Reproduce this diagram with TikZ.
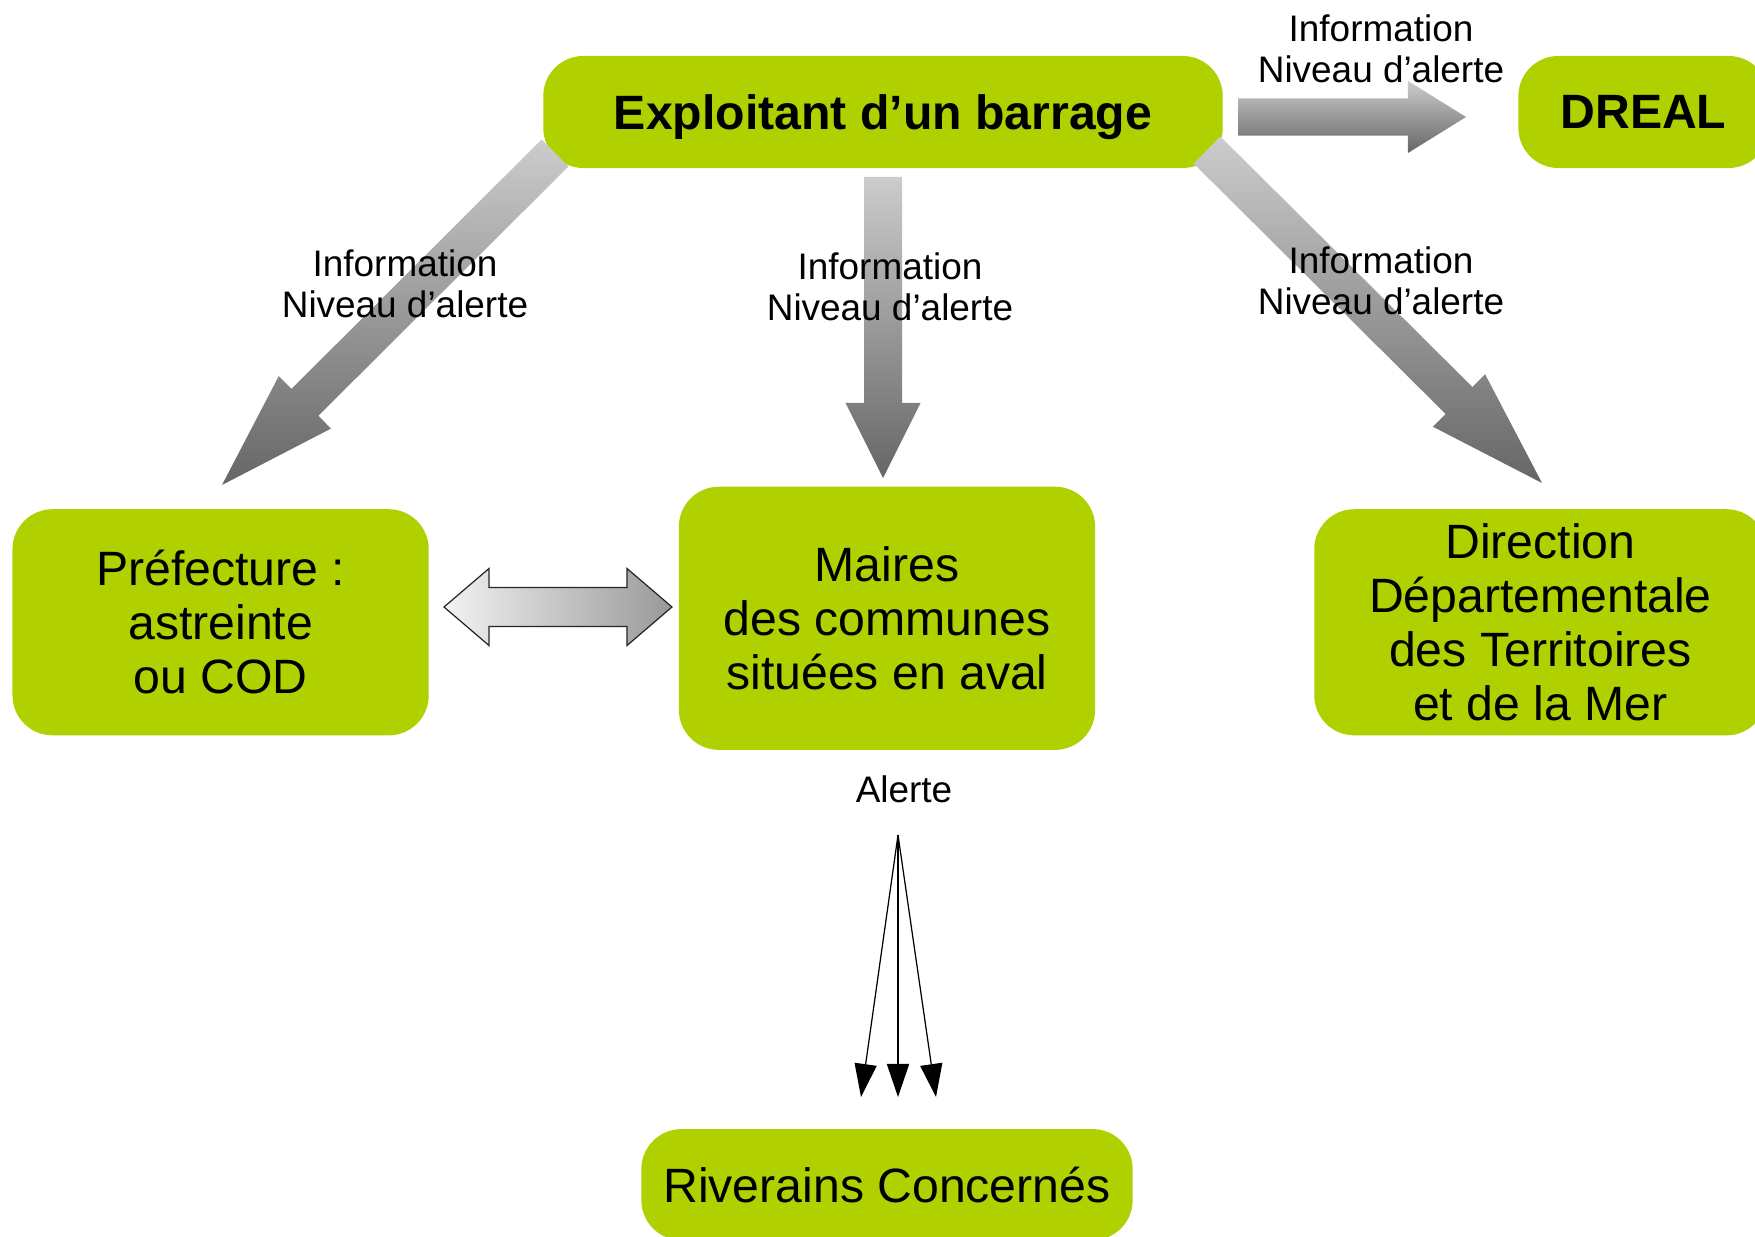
\documentclass[tikz,border=0pt]{standalone}
\usepackage{fontspec}
\setsansfont{Liberation Sans}
\usetikzlibrary{positioning,calc,arrows.meta}
\definecolor{barrage}{RGB}{176,208,0}

% wide grey arrow: start, end, half shaft, half head, head length
\newcommand{\infoarrow}[5]{%
  \shade[top color=black!20,bottom color=black!60]
    ($(#1)!#3!90:(#2)$) -- ($(#2)!#5!(#1)!#3!-90:(#1)$) -- ($(#2)!#5!(#1)!#4!-90:(#1)$)
    -- (#2) -- ($(#2)!#5!(#1)!#4!90:(#1)$) -- ($(#2)!#5!(#1)!#3!90:(#1)$)
    -- ($(#1)!#3!-90:(#2)$) -- cycle;}
% same with two heads
\newcommand{\duoarrow}[5]{%
  \shadedraw[draw=black!85,line width=0.35pt,left color=black!5,right color=black!40]
    (#1) -- ($(#1)!#5!(#2)!#4!90:(#2)$) -- ($(#1)!#5!(#2)!#3!90:(#2)$)
    -- ($(#2)!#5!(#1)!#3!-90:(#1)$) -- ($(#2)!#5!(#1)!#4!-90:(#1)$)
    -- (#2) -- ($(#2)!#5!(#1)!#4!90:(#1)$) -- ($(#2)!#5!(#1)!#3!90:(#1)$)
    -- ($(#1)!#5!(#2)!#3!-90:(#2)$) -- ($(#1)!#5!(#2)!#4!-90:(#2)$) -- cycle;}

\begin{document}
\begin{tikzpicture}[x=0.01cm,y=-0.01cm,font=\sffamily]
    \tikzstyle{box}=[fill=barrage, rounded corners=0.4cm, align=center, inner sep=0pt, on grid, font=\sffamily\fontsize{13.7}{15.3}\selectfont]
    \tikzstyle{info}=[align=center, inner sep=0pt, font=\sffamily\fontsize{10.5}{11.8}\selectfont]
    \useasboundingbox (0,0) rectangle (1755,1237);

    \node[box,minimum width=6.79cm,minimum height=1.12cm,text depth=0pt] (expl) at (883,112) {\textbf{Exploitant d’un barrage}};
    \node[box,minimum width=2.50cm,minimum height=1.12cm,right=7.60cm of expl] (dreal) {\textbf{DREAL}};
    \node[box,minimum width=4.16cm,minimum height=2.63cm,below right=5.06cm and 0.04cm of expl] (maires) {Maires\\des communes\\situées en aval};
    \node[box,minimum width=4.16cm,minimum height=2.26cm,below left=5.10cm and 6.62cm of expl] (pref) {Préfecture :\\astreinte\\ou COD};
    \node[box,minimum width=4.52cm,minimum height=2.26cm,below right=5.10cm and 6.57cm of expl] (ddtm) {Direction\\Départementale\\des Territoires\\et de la Mer};
    \node[box,minimum width=4.91cm,minimum height=1.11cm,below=5.66cm of maires] (riv) {Riverains Concernés};

    % ends of the wide arrows
    \coordinate (s-dreal) at (1238,117);  \coordinate (t-dreal) at (1466,117);
    \coordinate (s-pref) at (555,153);    \coordinate (t-pref) at (222,485);
    \coordinate (s-maires) at (883,177);  \coordinate (t-maires) at (883,478);
    \coordinate (s-ddtm) at (1207,150);   \coordinate (t-ddtm) at (1542,483);
    \coordinate (l-duo) at (444,607);     \coordinate (r-duo) at (672,607);

    \infoarrow{s-dreal}{t-dreal}{0.185cm}{0.36cm}{0.58cm}
    \infoarrow{s-pref}{t-pref}{0.19cm}{0.37cm}{1.17cm}
    \infoarrow{s-maires}{t-maires}{0.19cm}{0.375cm}{0.75cm}
    \infoarrow{s-ddtm}{t-ddtm}{0.19cm}{0.37cm}{1.17cm}
    \duoarrow{l-duo}{r-duo}{0.195cm}{0.385cm}{0.45cm}

    \node[info] (lbl-dreal) at (1381,49) {Information\\Niveau d’alerte};
    \node[info] (lbl-pref) at (405,284) {Information\\Niveau d’alerte};
    \node[info] (lbl-maires) at (890,287) {Information\\Niveau d’alerte};
    \node[info] (lbl-ddtm) at (1381,281) {Information\\Niveau d’alerte};
    \node[info] (alerte) at (904,789) {Alerte};

    % alert fan towards the residents
    \coordinate (fan) at (898,835);
    \coordinate (t1) at (861,1097);
    \coordinate (t2) at (898,1097);
    \coordinate (t3) at (936,1097);
    \foreach \t in {t1,t2,t3}
        \draw[line width=0.35pt,-{Triangle[width=6.3pt,length=9.4pt]}] (fan) -- (\t);
\end{tikzpicture}
\end{document}
